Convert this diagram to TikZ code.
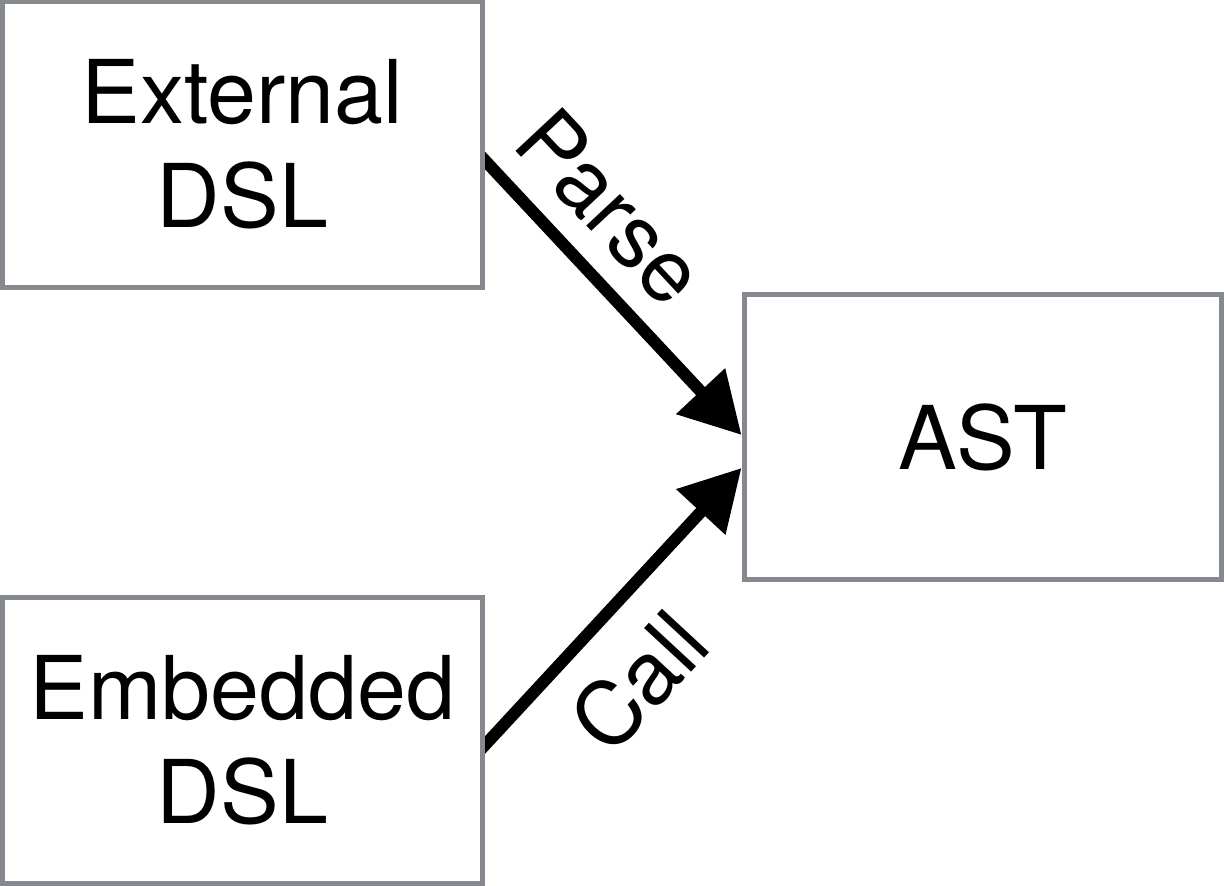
\documentclass[tikz,border=0pt]{standalone}
\usepackage{fontspec}
\setmainfont{TeX Gyre Heros}
\usetikzlibrary{arrows.meta, backgrounds}

\definecolor{boxgray}{RGB}{134,137,142}

\begin{document}
\begin{tikzpicture}[
    x=0.5pt, y=-0.5pt,
    % Box style
    dslbox/.style={
        rectangle,
        draw=boxgray,
        fill=white,
        line width=2.5pt,
        minimum width=240pt,
        minimum height=142.75pt,
        align=center,
        font=\fontsize{44}{52}\selectfont
    },
    % Arrow style
    flow/.style={
        -{Triangle[length=30pt, width=32pt]},
        line width=6pt,
        shorten <=-6pt,
        black
    },
    % Label style
    lbl/.style={
        font=\fontsize{44}{52}\selectfont,
        inner sep=0pt,
        sloped
    }
]
\useasboundingbox (0,0) rectangle (1224,886);

% === Source boxes (left) ===
\node[dslbox] (external) at (242.5, 144.5) {External\\DSL};
\node[dslbox] (embedded) at (242.5, 740.5) {Embedded\\DSL};

% === Target box (right) ===
\node[dslbox, minimum width=238.5pt] (ast) at (982.5, 437) {AST};

% === Arrows into the AST ===
\begin{scope}[on background layer]
\draw[flow] ([yshift=-8pt]external.east) -- ([yshift=1pt]ast.west)
    node[lbl, above=11pt, pos=0.32] (parse) {Parse};
\draw[flow] ([yshift=-2.25pt]embedded.east) -- ([yshift=-15.5pt]ast.west)
    node[lbl, below=15pt, pos=0.40] (call) {Call};
\end{scope}

\end{tikzpicture}
\end{document}
